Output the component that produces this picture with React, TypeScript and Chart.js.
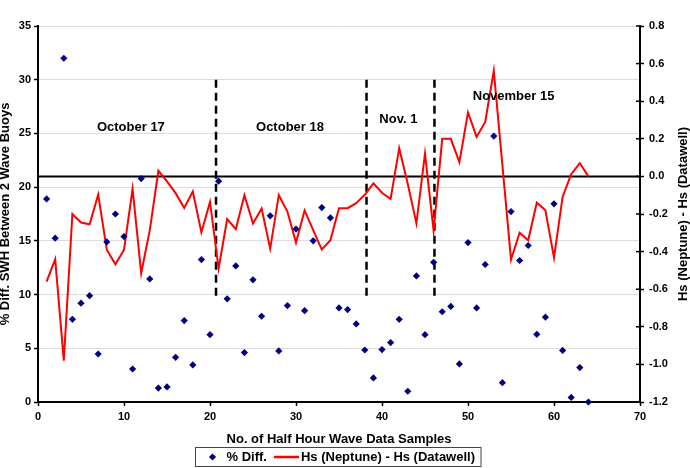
import React, { useEffect, useRef } from "react";
import { Chart, registerables } from "chart.js";

Chart.register(...registerables);

// ---------- data ----------
const sampleNo = [
  1, 2, 3, 4, 5, 6, 7, 8, 9, 10, 11, 12, 13, 14, 15, 16, 17, 18, 19, 20,
  21, 22, 23, 24, 25, 26, 27, 28, 29, 30, 31, 32, 33, 34, 35, 36, 37, 38, 39, 40,
  41, 42, 43, 44, 45, 46, 47, 48, 49, 50, 51, 52, 53, 54, 55, 56, 57, 58, 59, 60,
  61, 62, 63, 64,
];

const pctDiff = [
  18.9, 15.25, 32.0, 7.7, 9.2, 9.9, 4.47, 14.9, 17.5, 15.4,
  3.07, 20.8, 11.46, 1.3, 1.4, 4.16, 7.58, 3.45, 13.26, 6.27,
  20.56, 9.6, 12.67, 4.6, 11.37, 7.98, 17.33, 4.75, 8.98, 16.1,
  8.5, 15.0, 18.1, 17.14, 8.76, 8.6, 7.27, 4.84, 2.24, 4.88,
  5.53, 7.7, 1.0, 11.74, 6.27, 13.0, 8.4, 8.9, 3.54, 14.84,
  8.76, 12.8, 24.75, 1.8, 17.73, 13.17, 14.57, 6.3, 7.9, 18.45,
  4.8, 0.43, 3.2, 0.0,
];

const hsDiff = [
  -0.56, -0.44, -0.98, -0.2, -0.245, -0.255, -0.097, -0.39, -0.467, -0.39,
  -0.066, -0.515, -0.286, 0.03, -0.027, -0.089, -0.168, -0.08, -0.298, -0.136,
  -0.49, -0.227, -0.28, -0.1, -0.251, -0.171, -0.384, -0.1, -0.187, -0.352,
  -0.181, -0.286, -0.389, -0.339, -0.169, -0.169, -0.142, -0.098, -0.037, -0.087,
  -0.12, 0.15, -0.04, -0.25, 0.121, -0.289, 0.2, 0.2, 0.076, 0.34,
  0.21, 0.29, 0.562, 0.06, -0.443, -0.3, -0.34, -0.14, -0.18, -0.432,
  -0.109, 0.012, 0.07, 0.0,
];

const xRange = [0, 70];
const leftRange = [0, 35];
const rightRange = [-1.2, 0.8];
const zeroLineValue = 0;

const dividerX = [20.7, 38.2, 46.1];
const dividerSpan = [9.9, 30.35];

const annoLabels = ["October 17", "October 18", "Nov. 1", "November 15"];
const annoX = [10.8, 29.3, 41.9, 55.3];
const annoY = [25.6, 25.6, 26.3, 28.4];

const xTitle = "No. of Half Hour Wave Data Samples";
const leftTitle = "% Diff. SWH Between 2 Wave Buoys";
const rightTitle = "Hs (Neptune) - Hs (Datawell)";
const seriesNames = ["% Diff.", "Hs (Neptune) - Hs (Datawell)"];

// ---------- style ----------
const FAMILY = "'Liberation Sans', Arial, Helvetica, sans-serif";
const NAVY = "#000080";
const RED = "#ff0000";

const overlayPlugin = {
  id: "overlay",
  afterDatasetsDraw(chart: any) {
    const ctx = chart.ctx;
    const xs = chart.scales.x;
    const ys = chart.scales.y;
    ctx.save();
    ctx.fillStyle = "#000";
    ctx.font = `bold 13px ${FAMILY}`;
    ctx.textAlign = "center";
    ctx.textBaseline = "middle";
    annoLabels.forEach((t, i) => {
      ctx.fillText(t, xs.getPixelForValue(annoX[i]), ys.getPixelForValue(annoY[i]));
    });
    ctx.restore();
  },
  afterDraw(chart: any) {
    const ctx = chart.ctx;
    const area = chart.chartArea;
    const y1 = chart.scales.y1;

    // inner half of right-axis tick marks (they cross the axis)
    ctx.save();
    ctx.strokeStyle = "#000";
    ctx.lineWidth = 1.5;
    y1.ticks.forEach((t: any) => {
      const py = y1.getPixelForValue(t.value);
      ctx.beginPath();
      ctx.moveTo(area.right - 4, py);
      ctx.lineTo(area.right, py);
      ctx.stroke();
    });
    ctx.restore();

    // right axis title (reads bottom-to-top)
    ctx.save();
    ctx.fillStyle = "#000";
    ctx.font = `bold 13px ${FAMILY}`;
    ctx.textAlign = "center";
    ctx.textBaseline = "middle";
    ctx.translate(chart.width - 7, (area.top + area.bottom) / 2);
    ctx.rotate(-Math.PI / 2);
    ctx.fillText(rightTitle, 0, 0);
    ctx.restore();

    // legend
    ctx.save();
    ctx.font = `bold 13px ${FAMILY}`;
    const t1 = ctx.measureText(seriesNames[0]).width;
    const t2 = ctx.measureText(seriesNames[1]).width;
    const w = 31 + t1 + 7 + 25 + 2 + t2 + 6;
    const h = 19;
    const cx = (area.left + area.right) / 2 - 1;
    const left = Math.round(cx - w / 2) + 0.5;
    const top = 447.5;
    const cy = top + h / 2;
    ctx.fillStyle = "#fff";
    ctx.fillRect(left, top, w, h);
    ctx.strokeStyle = "#444";
    ctx.lineWidth = 1;
    ctx.strokeRect(left, top, w, h);
    const dx = left + 17;
    const r = 3.6;
    ctx.fillStyle = NAVY;
    ctx.beginPath();
    ctx.moveTo(dx, cy - r);
    ctx.lineTo(dx + r, cy);
    ctx.lineTo(dx, cy + r);
    ctx.lineTo(dx - r, cy);
    ctx.closePath();
    ctx.fill();
    ctx.fillStyle = "#000";
    ctx.textAlign = "left";
    ctx.textBaseline = "middle";
    const tx1 = left + 31;
    ctx.fillText(seriesNames[0], tx1, cy + 0.5);
    const lx = tx1 + t1 + 7;
    ctx.strokeStyle = RED;
    ctx.lineWidth = 2.5;
    ctx.beginPath();
    ctx.moveTo(lx, cy);
    ctx.lineTo(lx + 25, cy);
    ctx.stroke();
    ctx.fillText(seriesNames[1], lx + 27, cy + 0.5);
    ctx.restore();
  },
};

export default function App() {
  const canvasRef = useRef<HTMLCanvasElement | null>(null);

  useEffect(() => {
    if (!canvasRef.current) return;
    const tickFont = { family: FAMILY, size: 11, weight: "bold" as const };
    const titleFont = { family: FAMILY, size: 13, weight: "bold" as const };

    const dividerSets = dividerX.map((x) => ({
      type: "line" as const,
      label: "divider",
      data: [
        { x, y: dividerSpan[0] },
        { x, y: dividerSpan[1] },
      ],
      yAxisID: "y",
      borderColor: "#000",
      borderWidth: 2.5,
      borderDash: [8, 5],
      pointRadius: 0,
      order: 4,
    }));

    const chart = new Chart(canvasRef.current, {
      type: "scatter",
      data: {
        datasets: [
          {
            label: seriesNames[0],
            data: sampleNo.map((x, i) => ({ x, y: pctDiff[i] })),
            yAxisID: "y",
            pointStyle: "rectRot",
            pointRadius: 3.6,
            backgroundColor: NAVY,
            borderColor: NAVY,
            borderWidth: 0,
            clip: false,
            order: 1,
          },
          {
            type: "line",
            label: seriesNames[1],
            data: sampleNo.map((x, i) => ({ x, y: hsDiff[i] })),
            yAxisID: "y1",
            borderColor: RED,
            borderWidth: 2,
            pointRadius: 0,
            tension: 0,
            fill: false,
            order: 2,
          },
          {
            type: "line",
            label: "zero",
            data: [
              { x: xRange[0], y: zeroLineValue },
              { x: xRange[1], y: zeroLineValue },
            ],
            yAxisID: "y1",
            borderColor: "#000",
            borderWidth: 2,
            pointRadius: 0,
            order: 3,
          },
          ...dividerSets,
        ] as any,
      },
      options: {
        responsive: false,
        animation: false,
        devicePixelRatio: 1,
        layout: { padding: { top: 26, left: 0, right: 0, bottom: 0 } },
        plugins: {
          legend: { display: false },
          tooltip: { enabled: false },
        },
        scales: {
          x: {
            type: "linear",
            min: xRange[0],
            max: xRange[1],
            ticks: { stepSize: 10, font: tickFont, color: "#000", padding: 4 },
            grid: {
              drawOnChartArea: false,
              drawTicks: true,
              tickLength: 4,
              tickColor: "#000",
              tickWidth: 1.5,
            },
            border: { color: "#000", width: 2 },
            title: {
              display: true,
              text: xTitle,
              font: titleFont,
              color: "#000",
              padding: { top: 0, bottom: 21 },
            },
            afterFit: (s: any) => {
              s.height = 66;
            },
          },
          y: {
            position: "left",
            min: leftRange[0],
            max: leftRange[1],
            ticks: { stepSize: 5, font: tickFont, color: "#000", padding: 3 },
            grid: {
              color: "#dcdcdc",
              lineWidth: 1,
              tickColor: "#000",
              tickLength: 4,
              tickWidth: 1.5,
            },
            border: { color: "#000", width: 2 },
            title: {
              display: true,
              text: leftTitle,
              font: { ...titleFont, lineHeight: 0.9 },
              color: "#000",
              padding: { top: 0, bottom: 0 },
            },
            afterFit: (s: any) => {
              s.width = 38;
            },
          },
          y1: {
            position: "right",
            min: rightRange[0],
            max: rightRange[1],
            ticks: {
              stepSize: 0.2,
              font: tickFont,
              color: "#000",
              padding: 5,
              callback: (v: any) => {
                const n = Number(v);
                return Math.abs(n) < 1e-9 ? "0.0" : n.toFixed(1);
              },
            },
            grid: {
              drawOnChartArea: false,
              tickColor: "#000",
              tickLength: 4,
              tickWidth: 1.5,
            },
            border: { color: "#000", width: 2 },
            afterFit: (s: any) => {
              s.width = 50;
            },
          },
        },
      } as any,
      plugins: [overlayPlugin],
    });

    return () => chart.destroy();
  }, []);

  return (
    <div style={{ position: "fixed", left: 0, top: 0, width: 690, height: 468, background: "#fff" }}>
      <canvas ref={canvasRef} width={690} height={468} style={{ display: "block" }} />
    </div>
  );
}
